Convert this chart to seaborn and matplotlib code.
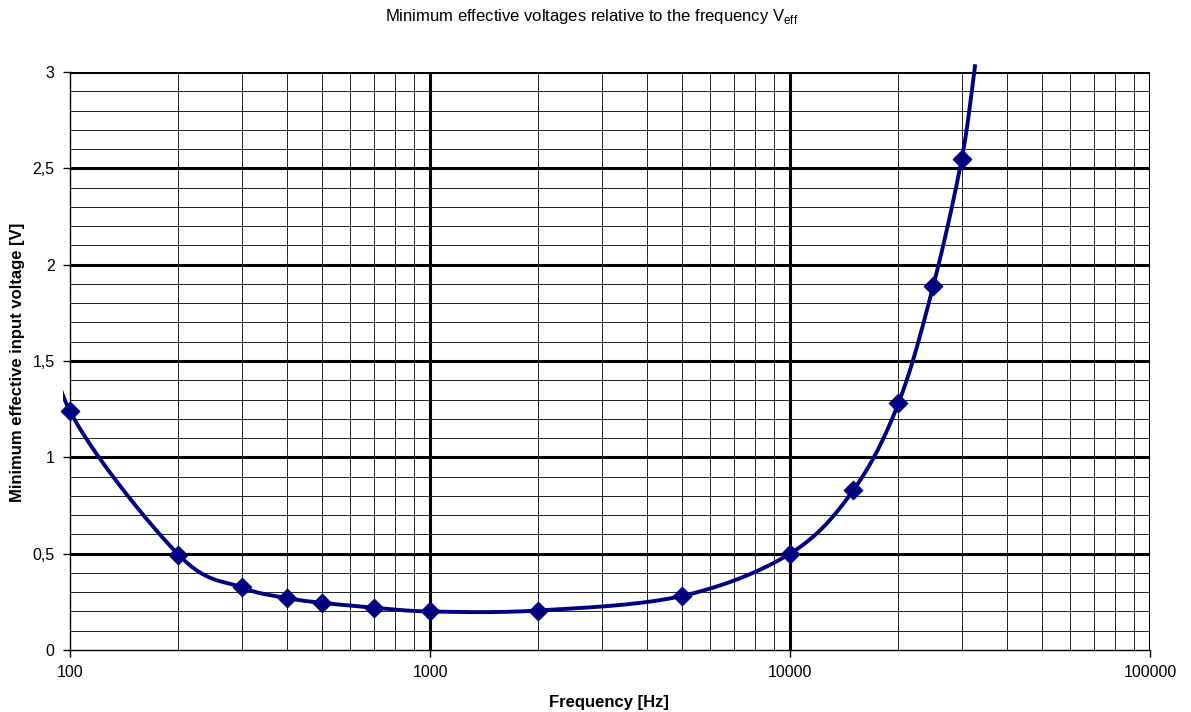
import numpy as np
import pandas as pd
import matplotlib
matplotlib.use('Agg')
import matplotlib.pyplot as plt
import seaborn as sns
from matplotlib.patches import Rectangle
from matplotlib.ticker import FixedLocator, FuncFormatter, NullFormatter

# ── DATA ──────────────────────────────────────────────────────────────────────
freq_hz   = [100, 200, 300, 400, 500, 700, 1000, 2000, 5000,
             10000, 15000, 20000, 25000, 30000]
volt_v    = [1.24, 0.495, 0.325, 0.27, 0.245, 0.22, 0.20, 0.205, 0.28,
             0.50, 0.83, 1.28, 1.89, 2.55]
# the curve runs a little past the axes at both ends
lead_in   = (85, 1.85)
lead_out  = (32700, 3.04)
clip_lo   = (95.6, 3.04)     # where the drawn line stops on each side

x_ticks   = [100, 1000, 10000, 100000]
y_ticks   = [0, 0.5, 1, 1.5, 2, 2.5, 3]

TITLE  = "Minimum effective voltages relative to the frequency V$_{\\mathregular{eff}}$"
XLABEL = "Frequency [Hz]"
YLABEL = "Minimum effective input voltage [V]"
NAVY   = "#000080"


def smooth(xs, ys, n=30):
    """Catmull-Rom through the points, in log-x space (like Excel smoothing)."""
    lx = np.log10(xs)
    P = np.column_stack([lx, ys])
    P = np.vstack([2 * P[0] - P[1], P, 2 * P[-1] - P[-2]])
    out = []
    for i in range(1, len(P) - 2):
        p0, p1, p2, p3 = P[i - 1], P[i], P[i + 1], P[i + 2]
        t = np.linspace(0, 1, n, endpoint=False)[:, None]
        seg = 0.5 * ((2 * p1) + (-p0 + p2) * t + (2 * p0 - 5 * p1 + 4 * p2 - p3) * t ** 2
                     + (-p0 + 3 * p1 - 3 * p2 + p3) * t ** 3)
        out.append(seg)
    out.append(P[-2][None, :])
    out = np.vstack(out)
    return 10 ** out[:, 0], out[:, 1]


def main():
    sns.set_theme(style="white")
    plt.rcParams['font.family'] = ['Liberation Sans', 'DejaVu Sans']
    plt.rcParams['mathtext.fontset'] = 'custom'
    plt.rcParams['mathtext.rm'] = 'Liberation Sans'

    df = pd.DataFrame({"freq": freq_hz, "volt": volt_v})

    fig = plt.figure(figsize=(11.91, 7.12), dpi=100)
    ax = fig.add_axes([70 / 1191, 1 - 650 / 712, 1080 / 1191, 578 / 712])
    ax.set_xscale("log")
    ax.set_xlim(100, 100000)
    ax.set_ylim(0, 3)

    # grid: thin minors, thick majors
    ax.xaxis.set_minor_locator(FixedLocator(
        [m * 10 ** d for d in range(2, 5) for m in range(2, 10)]))
    ax.yaxis.set_minor_locator(FixedLocator(np.arange(0, 3.01, 0.1)))
    ax.grid(which="minor", color="#222222", linewidth=0.7)
    for xv in x_ticks[1:]:
        ax.axvline(xv, color="black", linewidth=2.2, zorder=1)
    for yv in y_ticks[1:]:
        ax.axhline(yv, color="black", linewidth=2.2, zorder=1)

    # smoothed line + diamond markers
    xs = [lead_in[0]] + freq_hz + [lead_out[0]]
    ys = [lead_in[1]] + volt_v + [lead_out[1]]
    sx, sy = smooth(xs, ys)
    line, = ax.plot(sx, sy, color=NAVY, linewidth=2.8, zorder=3,
                    solid_capstyle="butt")
    clip = Rectangle((clip_lo[0], -0.2), 1e6, clip_lo[1] + 0.2,
                     transform=ax.transData, facecolor="none", edgecolor="none")
    line.set_clip_path(clip)
    sns.scatterplot(data=df, x="freq", y="volt", marker="D", s=95,
                    color=NAVY, edgecolor=NAVY, linewidth=0.5, zorder=4,
                    clip_on=False, ax=ax)

    ax.xaxis.set_major_locator(FixedLocator(x_ticks))
    ax.xaxis.set_major_formatter(FuncFormatter(lambda v, p: f"{int(round(v))}"))
    ax.xaxis.set_minor_formatter(NullFormatter())
    ax.yaxis.set_major_locator(FixedLocator(y_ticks))
    ax.yaxis.set_major_formatter(FuncFormatter(
        lambda v, p: (f"{v:g}").replace(".", ",")))
    ax.tick_params(axis="both", which="major", direction="out", length=5,
                   width=1, color="black", labelsize=11.5, labelcolor="black",
                   bottom=True, left=True, pad=6)
    ax.tick_params(axis="x", which="major", pad=6)
    ax.tick_params(axis="both", which="minor", length=0)

    for side in ["top", "right"]:
        ax.spines[side].set_visible(False)
    for side in ["left", "bottom"]:
        ax.spines[side].set_color("black")
        ax.spines[side].set_linewidth(1.0)
        ax.spines[side].set_zorder(2)

    ax.set_xlabel("")
    ax.set_ylabel("")
    fig.text(609 / 1191, 1 - 703 / 712, XLABEL, ha="center", va="center",
             fontsize=12, fontweight="bold", color="black")
    fig.text(18 / 1191, 1 - 362 / 712, YLABEL, ha="center", va="center",
             rotation=90, fontsize=12, fontweight="bold", color="black")
    fig.text(592 / 1191, 1 - 16 / 712, TITLE, ha="center", va="center",
             fontsize=12, color="black")

    fig.savefig("out.png", dpi=100)
    plt.close(fig)


if __name__ == "__main__":
    main()
